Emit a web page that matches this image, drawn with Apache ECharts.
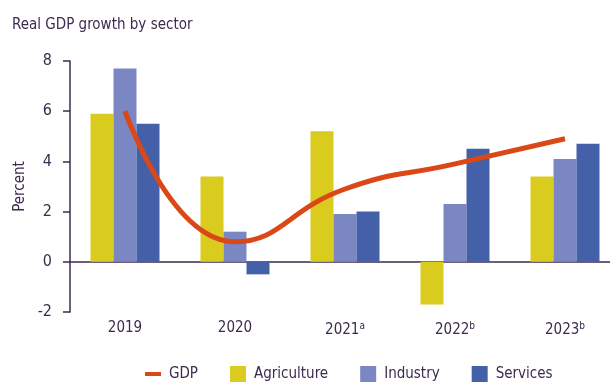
<!DOCTYPE html>
<html>
<head>
<meta charset="utf-8">
<script src="https://cdn.jsdelivr.net/npm/echarts@6/dist/echarts.min.js"></script>
<style>
  html, body { margin: 0; padding: 0; background: #fff; }
  #chart { width: 610px; height: 382px; }
</style>
</head>
<body>
<div id="chart"></div>
<script>
// Real GDP growth by sector, percent
const categories = ['2019', '2020', '2021', '2022', '2023'];
const notes = ['', '', 'a', 'b', 'b'];
const gdp = [6.0, 0.8, 2.9, 3.9, 4.9];
const agriculture = [5.9, 3.4, 5.2, -1.7, 3.4];
const industry = [7.7, 1.2, 1.9, 2.3, 4.1];
const services = [5.5, -0.5, 2.0, 4.5, 4.7];
const yTicks = [-2, 0, 2, 4, 6, 8];

const FONT = "'DejaVu Sans Condensed', sans-serif";
const INK = '#3b2b4e';
const GDP_COLOR = '#d94816';

const chart = echarts.init(document.getElementById('chart'));
chart.setOption({
  animation: false,
  textStyle: { fontFamily: FONT, color: INK },
  title: {
    text: 'Real GDP growth by sector',
    left: 7, top: 13,
    textStyle: { fontFamily: FONT, fontSize: 15, fontWeight: 'normal', color: INK }
  },
  legend: {
    data: [
      { name: 'GDP', icon: 'path://M0,0H16V4H0Z', itemStyle: { color: GDP_COLOR } },
      { name: 'Agriculture', icon: 'rect' },
      { name: 'Industry', icon: 'rect' },
      { name: 'Services', icon: 'rect' }
    ],
    left: 140, top: 361,
    itemWidth: 16, itemHeight: 16, itemGap: 32,
    textStyle: { fontFamily: FONT, fontSize: 15, color: INK, padding: [0, 0, 0, 3] }
  },
  grid: { left: 70, right: -10, top: 61, bottom: 70, outerBoundsMode: 'none' },
  xAxis: {
    type: 'category',
    data: categories,
    axisLine: { onZero: true, lineStyle: { color: INK, width: 1.5 } },
    axisTick: { alignWithLabel: true, length: 3, lineStyle: { color: '#b8b4bf' } },
    axisLabel: {
      interval: 0,
      margin: 9,
      fontFamily: FONT, fontSize: 15, color: INK,
      formatter: (v, i) => notes[i] ? v + '{sup|' + notes[i] + '}' : v,
      rich: { sup: { fontFamily: FONT, fontSize: 10, color: INK, verticalAlign: 'top', padding: [0, 0, 8, 0] } }
    }
  },
  yAxis: {
    type: 'value',
    min: yTicks[0], max: yTicks[yTicks.length - 1], interval: 2,
    name: 'Percent',
    nameLocation: 'middle',
    nameGap: 42,
    nameMoveOverlap: false,
    nameTextStyle: { fontFamily: FONT, fontSize: 15, color: INK },
    axisLine: { show: true, lineStyle: { color: INK, width: 1.5 } },
    axisTick: { show: true, length: 7, lineStyle: { color: INK, width: 1.5 } },
    axisLabel: { margin: 18, fontFamily: FONT, fontSize: 16, color: INK },
    splitLine: { show: false }
  },
  series: [
    {
      name: 'Agriculture', type: 'bar', data: agriculture,
      barWidth: 23, barGap: '0%',
      itemStyle: { color: '#d9cc1e' }
    },
    {
      name: 'Industry', type: 'bar', data: industry,
      barWidth: 23, barGap: '0%',
      itemStyle: { color: '#7a87c2' }
    },
    {
      name: 'Services', type: 'bar', data: services,
      barWidth: 23, barGap: '0%',
      itemStyle: { color: '#4360a8' }
    },
    {
      name: 'GDP', type: 'line', data: gdp,
      smooth: 0.5, symbol: 'none', z: 5,
      lineStyle: { color: GDP_COLOR, width: 5 },
      itemStyle: { color: GDP_COLOR }
    }
  ]
});
</script>
</body>
</html>
